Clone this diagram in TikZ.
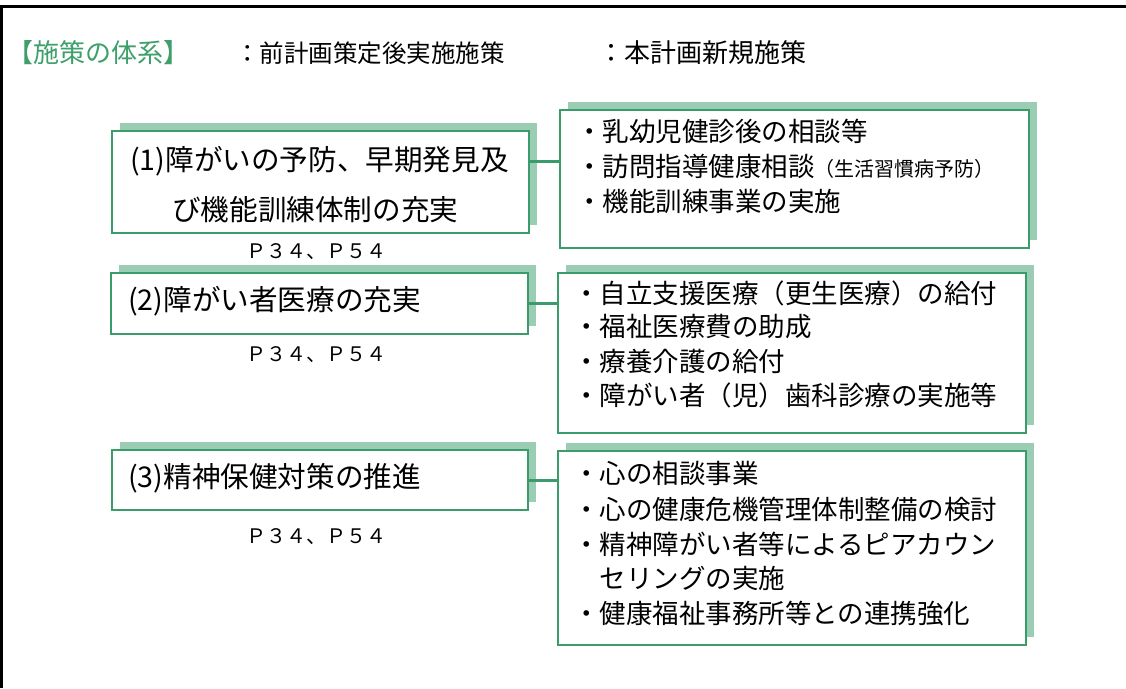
\documentclass[tikz,border=0pt]{standalone}
\usepackage{fontspec}
\setmainfont{Noto Sans CJK JP}
\usetikzlibrary{shadows}
\definecolor{bgreen}{HTML}{3A9C6A}
\definecolor{sgreen}{HTML}{9BCCB4}
\definecolor{tgreen}{HTML}{3DA06A}
\begin{document}
\begin{tikzpicture}[x=1pt,y=-1pt,
  box/.style={draw=bgreen, line width=2pt, fill=white, inner sep=0pt, anchor=north west,
    general shadow={fill=sgreen, shadow xshift=8pt, shadow yshift=8pt}},
  conn/.style={draw=bgreen, line width=3pt},
  lt/.style={anchor=west, inner sep=0pt, font=\fontsize{28.6}{34}\selectfont},
  rt/.style={anchor=west, inner sep=0pt, font=\fontsize{26.5}{35}\selectfont},
  pg/.style={inner sep=0pt, font=\fontsize{20}{24}\selectfont},
  hd/.style={anchor=west, inner sep=0pt, font=\fontsize{24.5}{30}\selectfont}]
\useasboundingbox (0,0) rectangle (1126,688);
\fill[white] (0,0) rectangle (1126,688);
\draw[line width=2.5pt] (1.3,688) -- (1.3,6.7) -- (1126,6.7);

% header
\node[hd, text=tgreen, font=\fontsize{26}{30}\selectfont] (title) at (7,53) {【施策の体系】};
\node[hd] (leg1) at (235,53) {：前計画策定後実施施策};
\node[hd, font=\fontsize{26}{30}\selectfont] (leg2) at (598,53) {：本計画新規施策};

% left boxes
\node[box, minimum width=417pt, minimum height=102pt] (l1) at (111,130) {};
\node[box, minimum width=417pt, minimum height=61pt] (l2) at (110,272) {};
\node[box, minimum width=416pt, minimum height=60pt] (l3) at (111,449) {};

% right boxes
\node[box, minimum width=469pt, minimum height=138pt] (r1) at (559,109) {};
\node[box, minimum width=468pt, minimum height=160pt] (r2) at (557,272) {};
\node[box, minimum width=468pt, minimum height=194pt] (r3) at (557,450) {};

% connectors
\coordinate (c1) at (540,161);
\draw[conn] (l1.east |- c1) -- (r1.west |- c1);
\draw[conn] (l2.east) -- (l2.east -| r2.west);
\draw[conn] (l3.east) -- (l3.east -| r3.west);

% left texts
\node[lt] (l1a) at (130,161.7) {(1)障がいの予防、早期発見及};
\node[lt] (l1b) at (172,210) {び機能訓練体制の充実};
\node[lt] (l2a) at (128,301.7) {(2)障がい者医療の充実};
\node[lt] (l3a) at (128,478.3) {(3)精神保健対策の推進};

% page labels
\node[pg] (p1) at (316.7,251.7) {Ｐ３４、Ｐ５４};
\node[pg] (p2) at (316.7,355) {Ｐ３４、Ｐ５４};
\node[pg] (p3) at (316.7,536.7) {Ｐ３４、Ｐ５４};

% right texts
\node[rt] (r1a) at (576,131.7) {・乳幼児健診後の相談等};
\node[rt] (r1b) at (576,166.7) {・訪問指導健康相談{\fontsize{20}{24}\selectfont （生活習慣病予防）}};
\node[rt] (r1c) at (576,201.7) {・機能訓練事業の実施};

\node[rt] (r2a) at (573,293) {・自立支援医療（更生医療）の給付};
\node[rt] (r2b) at (573,327) {・福祉医療費の助成};
\node[rt] (r2c) at (573,361) {・療養介護の給付};
\node[rt] (r2d) at (573,395) {・障がい者（児）歯科診療の実施等};

\node[rt] (r3a) at (573,473) {・心の相談事業};
\node[rt] (r3b) at (573,509) {・心の健康危機管理体制整備の検討};
\node[rt] (r3c) at (573,544) {・精神障がい者等によるピアカウン};
\node[rt] (r3d) at (599.5,578) {セリングの実施};
\node[rt] (r3e) at (573,613) {・健康福祉事務所等との連携強化};
\end{tikzpicture}
\end{document}
